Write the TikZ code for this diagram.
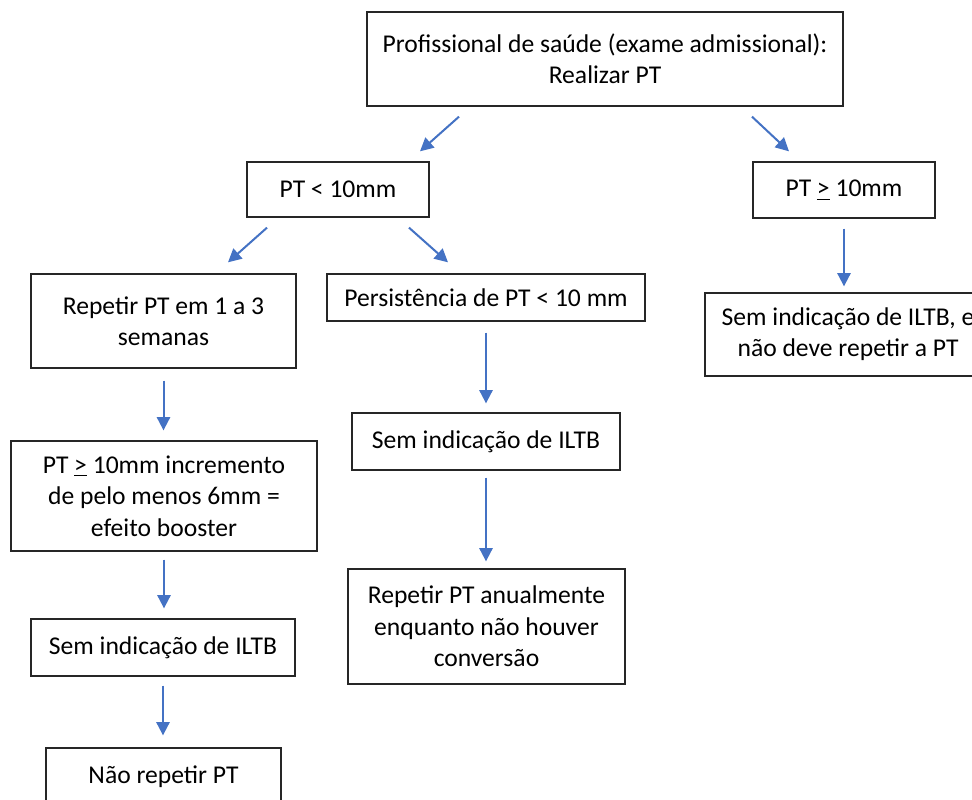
\documentclass[tikz,border=0pt]{standalone}
\usepackage{fontspec}
\setmainfont{Carlito}
\usetikzlibrary{arrows.meta}
\definecolor{arrowblue}{RGB}{68,114,196}
\begin{document}
\begin{tikzpicture}[x=0.75pt,y=-0.75pt,
  box/.style={draw=black!85, line width=1pt, fill=white, inner sep=0pt,
    align=center, font=\fontsize{19.2}{23.5}\selectfont},
  arr/.style={draw=arrowblue, line width=1.5pt,
    -{Triangle[length=10pt,width=10pt]}}]
\clip (0,0) rectangle (972,800);
\fill[white] (0,0) rectangle (972,800);

% boxes
\node[box, minimum width=357pt, minimum height=70.5pt] (top) at (605,59)
  {Profissional de saúde (exame admissional):\\Realizar PT};
\node[box, minimum width=136.5pt, minimum height=41.25pt] (lt) at (338,189.5)
  {PT < 10mm};
\node[box, minimum width=136.5pt, minimum height=42pt] (ge) at (844,190)
  {PT \underline{>} 10mm};
\node[box, minimum width=198.75pt, minimum height=70.5pt] (rep) at (163.5,321)
  {Repetir PT em 1 a 3\\semanas};
\node[box, minimum width=238.5pt, minimum height=35.25pt] (pers) at (486,297.5)
  {Persistência de PT < 10 mm};
\node[box, minimum width=214.5pt, minimum height=62.25pt] (semR) at (848,334.5)
  {Sem indicação de ILTB, e\\não deve repetir a PT};
\node[box, minimum width=229.5pt, minimum height=82.5pt] (boost) at (164,496)
  {PT \underline{>} 10mm incremento\\de pelo menos 6mm =\\efeito booster};
\node[box, minimum width=201pt, minimum height=42.75pt] (semM) at (486,441.5)
  {Sem indicação de ILTB};
\node[box, minimum width=207.75pt, minimum height=86.25pt] (anual) at (486.5,626.5)
  {Repetir PT anualmente\\enquanto não houver\\conversão};
\node[box, minimum width=198pt, minimum height=42.75pt] (semL) at (163,647.5)
  {Sem indicação de ILTB};
\node[box, minimum width=176.25pt, minimum height=42.75pt] (nao) at (163.5,776.5)
  {Não repetir PT};

% diagonal connectors
\draw[arr] ([shift={(-146,10)}]top.south) -- ([shift={(82,-10)}]lt.north);
\draw[arr] ([shift={(147,10)}]top.south) -- ([shift={(-55,-10)}]ge.north);
\draw[arr] ([shift={(-71,10)}]lt.south) -- ([shift={(64.5,-11)}]rep.north);
\draw[arr] ([shift={(71,10)}]lt.south) -- ([shift={(-38,-11)}]pers.north);

% vertical connectors
\draw[arr, shorten <=7.5pt, shorten >=4.5pt] (ge.south) -- (ge.south |- semR.north);
\draw[arr, shorten <=9pt, shorten >=7.5pt] (rep.south) -- (rep.south |- boost.north);
\draw[arr, shorten <=8.25pt, shorten >=6.75pt] (pers.south) -- (pers.south |- semM.north);
\draw[arr, shorten <=5.25pt, shorten >=5.25pt] (semM.south) -- (semM.south |- anual.north);
\draw[arr, shorten <=6pt, shorten >=7.5pt] (boost.south) -- (boost.south |- semL.north);
\draw[arr, shorten <=6.75pt, shorten >=9pt] (semL.south) -- (semL.south |- nao.north);
\end{tikzpicture}
\end{document}
